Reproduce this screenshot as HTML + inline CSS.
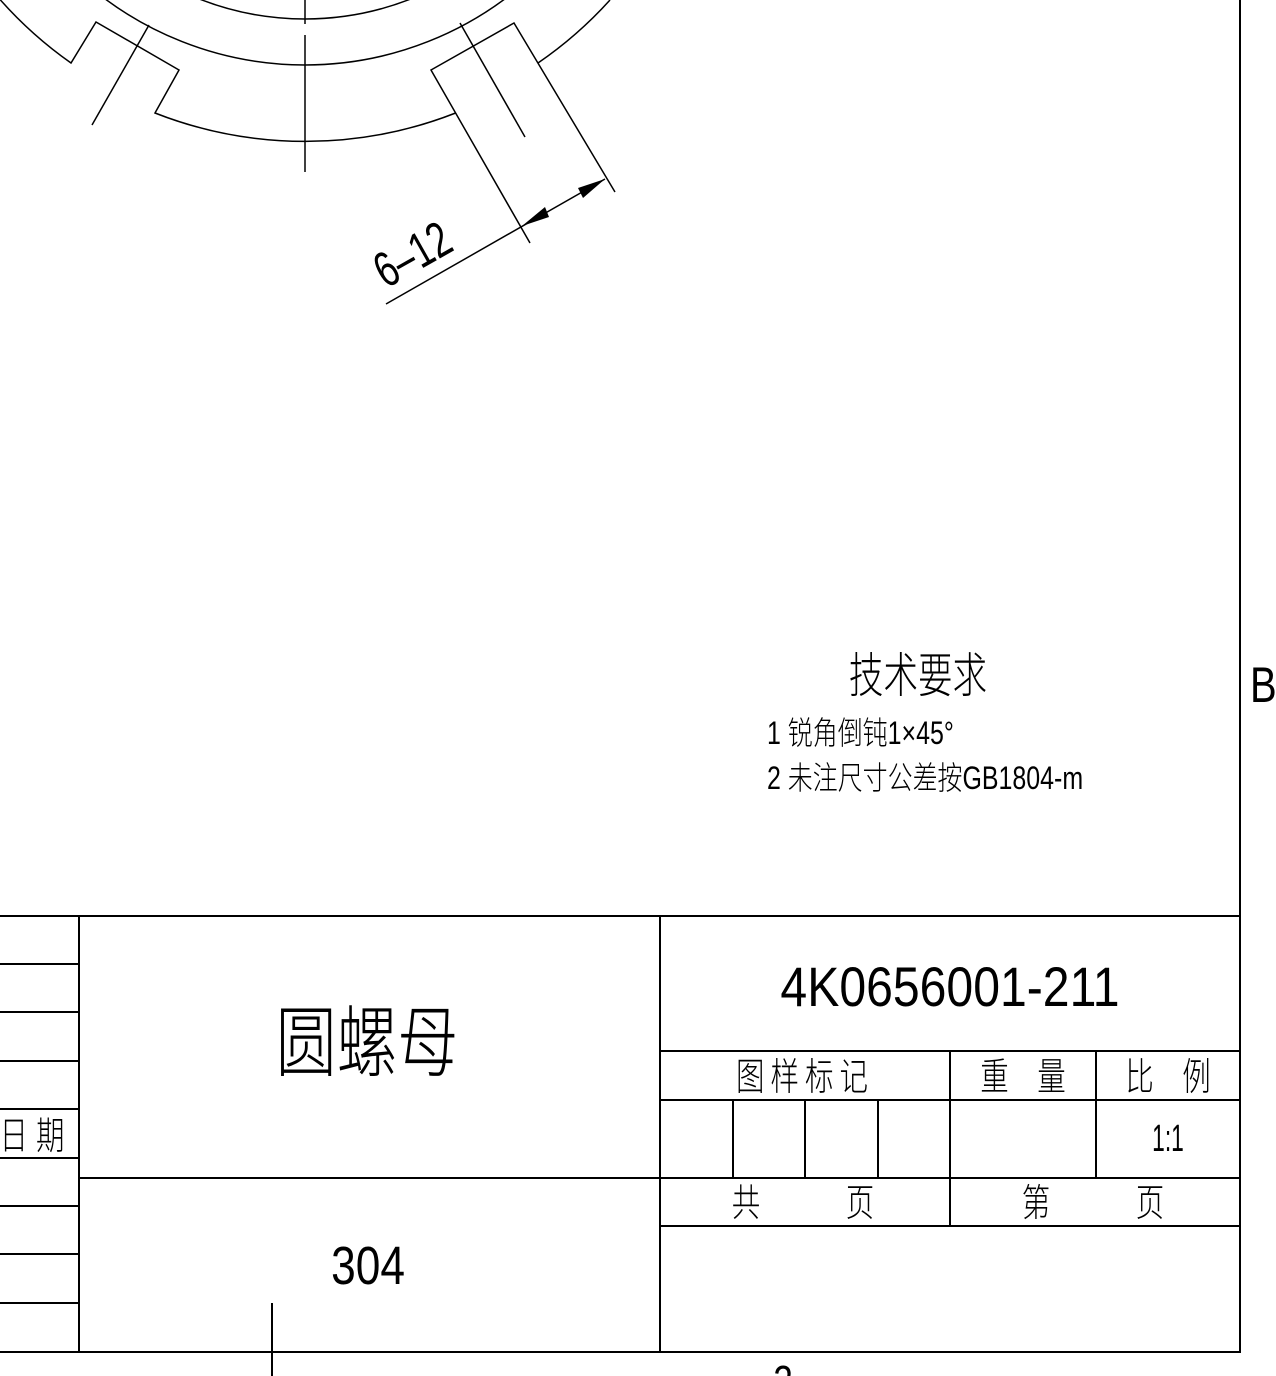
<!DOCTYPE html>
<html><head><meta charset="utf-8"><style>
html,body{margin:0;padding:0;background:#fff;}
svg{display:block;}
text{font-family:"DejaVu Sans ExtraLight","Liberation Sans","Noto Sans CJK SC",sans-serif;font-weight:200;fill:#000;}
.c{font-family:"Liberation Sans","Noto Sans CJK SC",sans-serif;font-weight:300;}
</style></head><body>
<svg width="1276" height="1376" viewBox="0 0 1276 1376" xmlns="http://www.w3.org/2000/svg">
<g fill="none" stroke="#000" stroke-width="1.5">
<circle cx="305" cy="-270" r="289"/>
<circle cx="305" cy="-270" r="335"/>
<line x1="305" y1="0" x2="305" y2="24"/>
<line x1="305" y1="35" x2="305" y2="172"/>
<path d="M0,-0.5 A407,407 0 0 0 71,63 L96,22 L179,70 L155,113 A412,412 0 0 0 455.6,113"/>
<path d="M530,243 L431,70 L514,23 L615,192"/>
<path d="M538,63 A407,407 0 0 0 610,0"/>
<line x1="149" y1="25" x2="92" y2="125"/>
<line x1="460" y1="23" x2="525" y2="137"/>
<line x1="386" y1="304" x2="605" y2="179"/>
</g>
<polygon points="522,226 545,207 549,217" fill="#000"/>
<polygon points="605,179 578,188 583,198" fill="#000"/>
<text x="0" y="0" font-size="50" transform="translate(386,289) rotate(-29.5) scale(0.72,1)">6–12</text>

<g stroke="#000" stroke-width="2" fill="none">
<line x1="1240" y1="0" x2="1240" y2="1353"/>
<line x1="0" y1="1352" x2="1241" y2="1352"/>
<line x1="0" y1="916" x2="1240" y2="916"/>
<line x1="79" y1="916" x2="79" y2="1352"/>
<line x1="660" y1="916" x2="660" y2="1352"/>
<line x1="79" y1="1178" x2="1240" y2="1178"/>
<line x1="660" y1="1051" x2="1240" y2="1051"/>
<line x1="660" y1="1100" x2="1240" y2="1100"/>
<line x1="660" y1="1226" x2="1240" y2="1226"/>
<line x1="950" y1="1051" x2="950" y2="1226"/>
<line x1="1096" y1="1051" x2="1096" y2="1178"/>
<line x1="733" y1="1100" x2="733" y2="1178"/>
<line x1="805" y1="1100" x2="805" y2="1178"/>
<line x1="878" y1="1100" x2="878" y2="1178"/>
<line x1="0" y1="964" x2="79" y2="964"/>
<line x1="0" y1="1012" x2="79" y2="1012"/>
<line x1="0" y1="1061" x2="79" y2="1061"/>
<line x1="0" y1="1109" x2="79" y2="1109"/>
<line x1="0" y1="1158" x2="79" y2="1158"/>
<line x1="0" y1="1206" x2="79" y2="1206"/>
<line x1="0" y1="1254" x2="79" y2="1254"/>
<line x1="0" y1="1303" x2="79" y2="1303"/>
<line x1="272" y1="1303" x2="272" y2="1376"/>
</g>

<text class="c" x="0" y="0" font-size="48" transform="translate(918,692) scale(0.72,1)" text-anchor="middle">技术要求</text>
<text class="c" x="0" y="0" font-size="32" transform="translate(767,744) scale(0.78,1)">1 锐角倒钝1×45°</text>
<text class="c" x="0" y="0" font-size="32" transform="translate(767,789) scale(0.78,1)">2 未注尺寸公差按GB1804-m</text>
<text x="0" y="0" font-size="50" transform="translate(1250,702) scale(0.8,1)">B</text>

<text x="0" y="0" font-size="56" transform="translate(950,1006) scale(0.86,1)" text-anchor="middle">4K0656001-211</text>
<text class="c" x="0" y="0" font-size="38" transform="translate(805,1090) scale(0.75,1)" text-anchor="middle" letter-spacing="8">图样标记</text>
<text class="c" x="0" y="0" font-size="38" transform="translate(1023,1090) scale(0.75,1)" text-anchor="middle">重　量</text>
<text class="c" x="0" y="0" font-size="38" transform="translate(1168,1090) scale(0.75,1)" text-anchor="middle">比　例</text>
<text x="0" y="0" font-size="38" transform="translate(1168,1151) scale(0.6,1)" text-anchor="middle">1:1</text>
<text class="c" x="0" y="0" font-size="38" transform="translate(803,1216) scale(0.75,1)" text-anchor="middle">共　　　页</text>
<text class="c" x="0" y="0" font-size="38" transform="translate(1093,1216) scale(0.75,1)" text-anchor="middle">第　　　页</text>
<text class="c" x="0" y="0" font-size="78" transform="translate(367,1070) scale(0.78,1)" text-anchor="middle">圆螺母</text>
<text x="0" y="0" font-size="54" transform="translate(368,1284) scale(0.82,1)" text-anchor="middle">304</text>
<text class="c" x="0" y="0" font-size="38" transform="translate(32,1149) scale(0.75,1)" text-anchor="middle">日 期</text>
<text x="0" y="0" font-size="44" transform="translate(783,1396) scale(0.8,1)" text-anchor="middle">2</text>
</svg>
</body></html>
